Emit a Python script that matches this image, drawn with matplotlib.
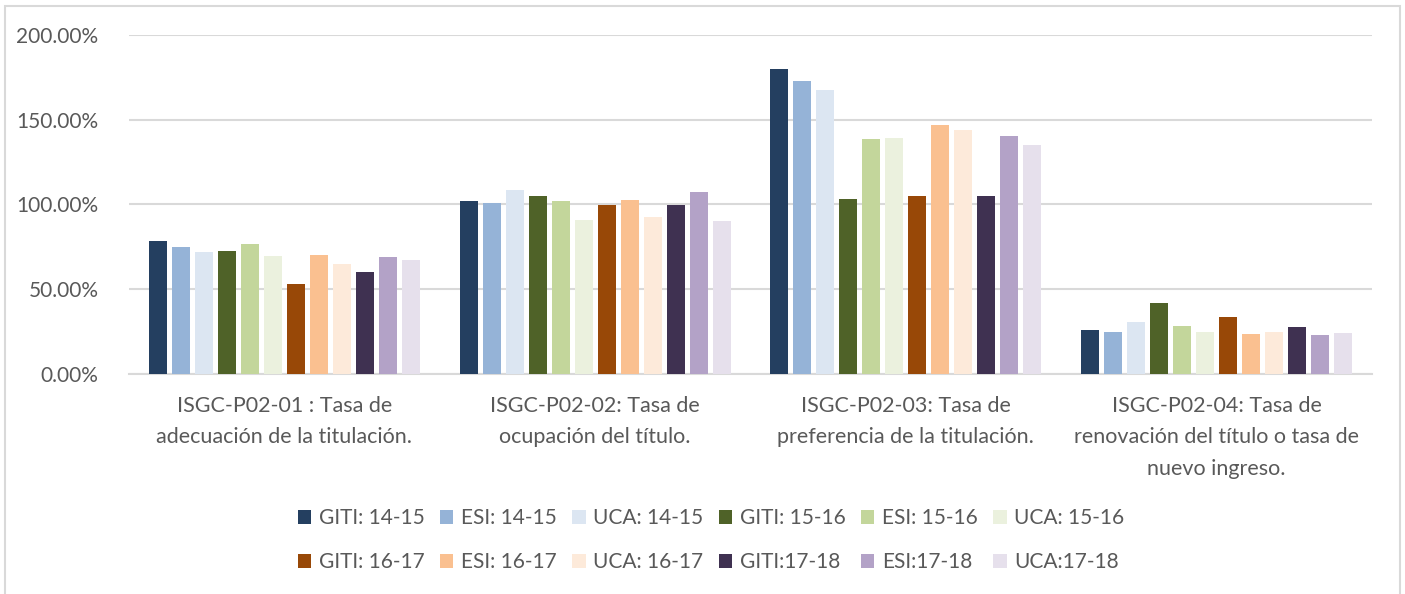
import matplotlib
matplotlib.use("Agg")
from matplotlib import pyplot as plt
from matplotlib.patches import Rectangle
from matplotlib.ticker import FuncFormatter
import numpy as np

plt.rcParams['font.family'] = ['Lato', 'DejaVu Sans']

# categories (x axis)
indicators = ["ISGC-P02-01 : Tasa de\nadecuación de la titulación.",
              "ISGC-P02-02: Tasa de\nocupación del título.",
              "ISGC-P02-03: Tasa de\npreferencia de la titulación.",
              "ISGC-P02-04: Tasa de\nrenovación del título o tasa de\nnuevo ingreso."]

series_names = ["GITI: 14-15", "ESI: 14-15", "UCA: 14-15",
                "GITI: 15-16", "ESI: 15-16", "UCA: 15-16",
                "GITI: 16-17", "ESI: 16-17", "UCA: 16-17",
                "GITI:17-18", "ESI:17-18", "UCA:17-18"]

# values (as fractions, 1.0 = 100%)
p02_01 = [0.786, 0.751, 0.722, 0.724, 0.765, 0.698, 0.528, 0.702, 0.647, 0.600, 0.690, 0.670]
p02_02 = [1.018, 1.010, 1.088, 1.053, 1.018, 0.906, 0.998, 1.027, 0.929, 0.998, 1.075, 0.900]
p02_03 = [1.798, 1.727, 1.675, 1.033, 1.384, 1.394, 1.051, 1.469, 1.441, 1.051, 1.404, 1.351]
p02_04 = [0.260, 0.248, 0.305, 0.420, 0.282, 0.250, 0.335, 0.233, 0.246, 0.276, 0.229, 0.239]

colors = ['#243F60', '#95B3D7', '#DCE6F2',
          '#4F6228', '#C3D69B', '#EBF1DE',
          '#984807', '#FAC090', '#FDEADA',
          '#3F3151', '#B3A2C7', '#E6E0EC']

values = np.array([p02_01, p02_02, p02_03, p02_04])

fig = plt.figure(figsize=(14.05, 5.94), dpi=100)
ax = fig.add_axes([0.0918, 0.3704, 0.8847, 0.5707])

x = np.arange(len(indicators))
pitch = 0.074
width = 0.058
for j in range(len(series_names)):
    ax.bar(x + (j - 5.5) * pitch, values[:, j], width=width, color=colors[j],
           label=series_names[j], zorder=3)

ax.set_xlim(-0.5, 3.5)
ax.set_ylim(0, 2.0)
ax.set_yticks([0, 0.5, 1.0, 1.5, 2.0])
ax.yaxis.set_major_formatter(FuncFormatter(lambda v, p: '{:.2f}%'.format(v * 100)))
ax.grid(axis='y', color='#D9D9D9', linewidth=1.5, zorder=0)

for s in ['top', 'right', 'left']:
    ax.spines[s].set_visible(False)
ax.spines['bottom'].set_color('#D9D9D9')
ax.spines['bottom'].set_linewidth(1.5)

ax.set_xticks(x)
ax.set_xticklabels(indicators, linespacing=1.7)
ax.tick_params(axis='x', length=0, pad=16, labelsize=15.5, labelcolor='#595959')
ax.tick_params(axis='y', length=0, pad=22, labelsize=15, labelcolor='#595959')

# legend is filled row by row in the reference, matplotlib fills by column
handles, labels = ax.get_legend_handles_labels()
order = [r * 6 + c for c in range(6) for r in range(2)]
fig.legend([handles[i] for i in order], [labels[i] for i in order],
           loc='center', bbox_to_anchor=(0.506, 0.091), ncol=6,
           frameon=False, fontsize=15, labelcolor='#595959',
           handlelength=0.65, handleheight=0.65, handletextpad=0.35,
           columnspacing=0.75, labelspacing=1.15)

# chart area border
fig.patches.append(Rectangle((5 / 1405, -0.05), 1395 / 1405, 1.05 - 6 / 594,
                             transform=fig.transFigure, fill=False,
                             edgecolor='#D9D9D9', linewidth=1.5))

fig.savefig('out.png', dpi=100)
